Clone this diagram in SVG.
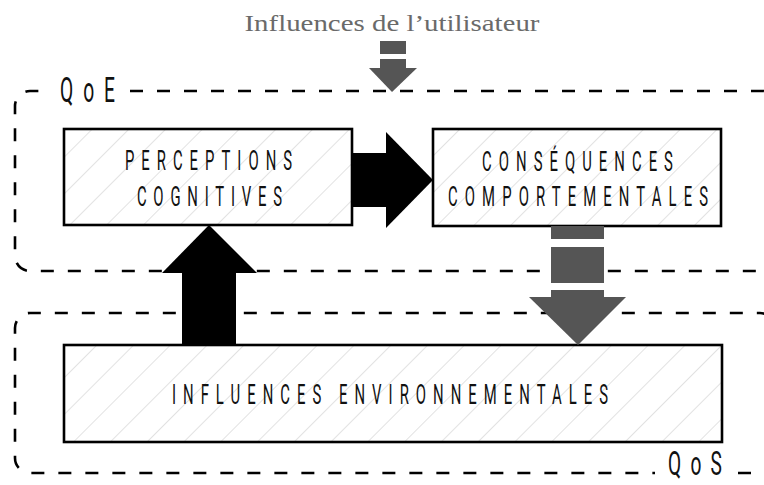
<svg xmlns="http://www.w3.org/2000/svg" width="764" height="485" viewBox="0 0 764 485">
  <defs>
    <pattern id="hatch" patternUnits="userSpaceOnUse" width="26" height="26" patternTransform="rotate(45)">
      <line x1="0" y1="0" x2="0" y2="26" stroke="#cfcfcf" stroke-width="1.2"/>
    </pattern>
    <style>
      .zone { fill: none; stroke: #000; stroke-width: 2.6; stroke-dasharray: 13 14; }
      .box { fill: url(#hatch); stroke: #000; stroke-width: 2.6; }
      .boxbg { fill: #fff; }
      .lbl { font-family: Roboto, "Liberation Sans", sans-serif; font-weight: 400; font-size: 27px; fill: #111; }
      .zlbl { font-family: Roboto, "Liberation Sans", sans-serif; font-weight: 400; font-size: 35px; fill: #111; }
      .title { font-family: "Liberation Serif", "DejaVu Serif", serif; font-size: 24px; fill: #6a6a6a; }
      .gray { fill: #555; }
      .black { fill: #000; }
    </style>
  </defs>
  <rect width="764" height="485" fill="#fff"/>

  <g id="title">
    <text class="title" x="392" y="31" text-anchor="middle" textLength="295" lengthAdjust="spacingAndGlyphs">Influences de l’utilisateur</text>
  </g>

  <g id="qoe">
    <path class="zone" d="M 130 91 H 763 A 15 15 0 0 1 778 106 V 256 A 15 15 0 0 1 763 271 H 30 A 15 15 0 0 1 15 256 V 106 A 15 15 0 0 1 30 91 H 50"/>
    <text class="zlbl" transform="translate(87.5,102) scale(0.55,1)" text-anchor="middle" textLength="100" lengthAdjust="spacing">QoE</text>
  </g>

  <g id="qos">
    <path class="zone" d="M 738 473 H 760 A 15 15 0 0 0 775 458 V 328 A 15 15 0 0 0 760 313 H 30 A 15 15 0 0 0 15 328 V 458 A 15 15 0 0 0 30 473 H 655"/>
    <text class="zlbl" style="font-size:33px" transform="translate(695,475) scale(0.58,1)" text-anchor="middle" textLength="93" lengthAdjust="spacing">QoS</text>
  </g>

  <g id="perceptions">
    <rect class="boxbg" x="64" y="129" width="288" height="96"/>
    <rect class="box" x="64" y="129" width="288" height="96"/>
    <text class="lbl" transform="translate(208.5,170) scale(0.55,1)" text-anchor="middle" textLength="304" lengthAdjust="spacing">PERCEPTIONS</text>
    <text class="lbl" transform="translate(209.5,206) scale(0.55,1)" text-anchor="middle" textLength="264" lengthAdjust="spacing">COGNITIVES</text>
  </g>

  <g id="consequences">
    <rect class="boxbg" x="433" y="129" width="288" height="97"/>
    <rect class="box" x="433" y="129" width="288" height="97"/>
    <text class="lbl" transform="translate(577.5,171) scale(0.55,1)" text-anchor="middle" textLength="347" lengthAdjust="spacing">CONSÉQUENCES</text>
    <text class="lbl" transform="translate(578,206) scale(0.55,1)" text-anchor="middle" textLength="473" lengthAdjust="spacing">COMPORTEMENTALES</text>
  </g>

  <g id="environnement">
    <rect class="boxbg" x="64" y="345" width="658" height="97"/>
    <rect class="box" x="64" y="345" width="658" height="97"/>
    <text class="lbl" transform="translate(390,404) scale(0.55,1)" text-anchor="middle" textLength="793" lengthAdjust="spacing">INFLUENCES ENVIRONNEMENTALES</text>
  </g>

  <g id="connectors">
    <rect class="gray" x="380" y="41" width="26" height="13"/>
    <rect class="gray" x="380" y="59" width="26" height="10"/>
    <polygon class="gray" points="369,68 417,68 392,92"/>
    <rect class="black" x="352" y="153" width="35" height="54"/>
    <polygon class="black" points="386,132 386,228 433,180"/>
    <rect class="black" x="182" y="272" width="54" height="73"/>
    <polygon class="black" points="162,273 257,273 209,225"/>
    <rect class="gray" x="551" y="226" width="53" height="13"/>
    <rect class="gray" x="551" y="247" width="53" height="36"/>
    <rect class="gray" x="551" y="290" width="53" height="8"/>
    <polygon class="gray" points="529,297 626,297 578,345"/>
  </g>
</svg>
